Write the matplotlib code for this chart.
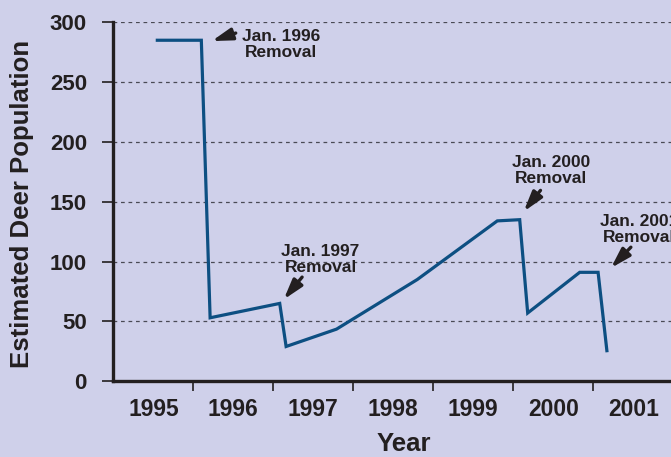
import numpy as np
import matplotlib.pyplot as plt

# estimated deer population
years = [1995.55, 1996.10, 1996.21, 1997.08, 1997.16, 1997.79, 1998.80,
         1999.80, 2000.08, 2000.18, 2000.83, 2001.06, 2001.17]
deer = [285, 285, 53, 65, 29, 43.5, 85, 134, 135, 57, 91, 91, 25.5]

year_labels = ['1995', '1996', '1997', '1998', '1999', '2000', '2001']
removals = ['Jan. 1996\nRemoval', 'Jan. 1997\nRemoval',
            'Jan. 2000\nRemoval', 'Jan. 2001\nRemoval']
# text centre, arrow tail, arrow tip (data coords)
note_xy = [(1997.10, 281.5), (1997.59, 101.4), (2000.47, 176.0), (2001.57, 126.8)]
tail_xy = [(1996.53, 291.0), (1997.36, 87.0), (2000.34, 159.5), (2001.47, 112.0)]
tip_xy = [(1996.23, 284.3), (1997.13, 68.3), (2000.13, 141.8), (2001.22, 94.6)]

bg = '#cfd0ea'
ink = '#231f20'
plt.rcParams['font.family'] = ['Liberation Sans', 'DejaVu Sans']
plt.rcParams['font.weight'] = 'bold'

fig = plt.figure(figsize=(6.71, 4.57), dpi=100, facecolor=bg)
ax = fig.add_axes([0.1689, 0.1659, 0.8345, 0.7853])
ax.set_facecolor(bg)

ax.plot(years, deer, color='#0d4f82', lw=2.3, solid_joinstyle='miter', zorder=3)

ax.set_xlim(1995, 2002)
ax.set_ylim(0, 300)
ax.set_yticks(np.arange(0, 301, 50))
ax.set_xticks(np.arange(1996, 2002))
ax.set_xticklabels([])
ax.set_xticks(np.arange(1995.5, 2002, 1), minor=True)
ax.set_xticklabels(year_labels, minor=True)

for y in range(50, 301, 50):
    ax.axhline(y, color='#4a4a55', lw=0.9, ls=(0, (3, 3)), zorder=1)

for s in ['top', 'right']:
    ax.spines[s].set_visible(False)
for s in ['left', 'bottom']:
    ax.spines[s].set_linewidth(2.4)
    ax.spines[s].set_color(ink)

ax.tick_params(axis='y', length=8, width=1.2, color=ink, pad=11,
               labelsize=16, labelcolor=ink)
ax.tick_params(axis='x', which='major', length=7, width=1.2, color=ink)
ax.tick_params(axis='x', which='minor', length=0, pad=12, labelsize=16.5,
               labelcolor=ink)

fig.text(21.7 / 671, 1 - 204 / 457, 'Estimated Deer Population', rotation=90,
         ha='center', va='center', fontsize=18.5, color=ink)
fig.text(404 / 671, 1 - 444 / 457, 'Year', ha='center', va='center',
         fontsize=18.5, color=ink)

for txt, p, t0, t1 in zip(removals, note_xy, tail_xy, tip_xy):
    ax.text(p[0], p[1], txt, ha='center', va='center', fontsize=12.5,
            color=ink, linespacing=1.1, clip_on=False)
    ax.annotate('', xy=t1, xytext=t0,
                arrowprops=dict(arrowstyle='-|>,head_length=0.8,head_width=0.24',
                                lw=2.4, color=ink, mutation_scale=15,
                                shrinkA=0, shrinkB=0),
                annotation_clip=False)

fig.savefig('out.png', dpi=100, facecolor=bg)
